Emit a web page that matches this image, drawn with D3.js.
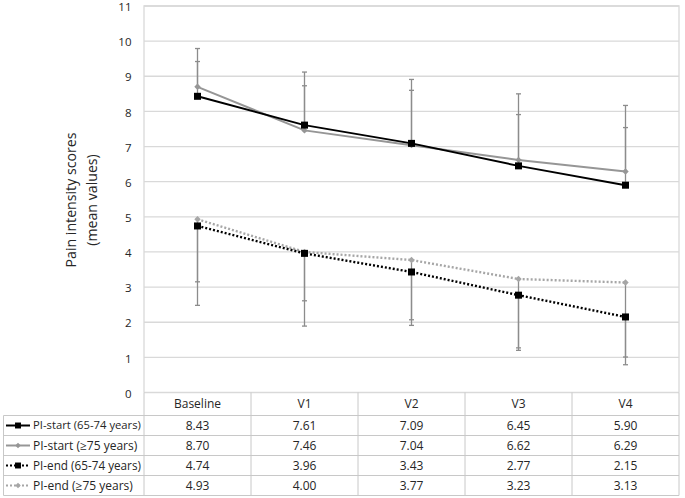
<!DOCTYPE html>
<html><head><meta charset="utf-8">
<script src="https://cdn.jsdelivr.net/npm/d3@7"></script>
<style>
html,body{margin:0;padding:0;background:#fff;}
svg{display:block;font-family:"Open Sans","Noto Sans",sans-serif;}
</style></head>
<body><svg id="c" width="685" height="498"></svg>
<script>
const categories = ["Baseline","V1","V2","V3","V4"];
const seriesNames = ["PI-start (65-74 years)","PI-start (\u226575 years)","PI-end (65-74 years)","PI-end (\u226575 years)"];
const piStart6574 = [8.43,7.61,7.09,6.45,5.90];
const piStart75 = [8.70,7.46,7.04,6.62,6.29];
const piEnd6574 = [4.74,3.96,3.43,2.77,2.15];
const piEnd75 = [4.93,4.00,3.77,3.23,3.13];
// error bar ends (mean + SD for start, mean - SD for end)
const errStart6574 = [9.42,8.73,8.60,7.91,7.54];
const errStart75 = [9.79,9.12,8.91,8.50,8.17];
const errEnd6574 = [3.15,2.61,2.07,1.27,1.01];
const errEnd75 = [2.48,1.89,1.91,1.20,0.79];
const yTicks = [0,1,2,3,4,5,6,7,8,9,10,11];

const series = [
  {name:seriesNames[0], values:piStart6574, err:errStart6574, color:"#000", dash:null, marker:"square"},
  {name:seriesNames[1], values:piStart75, err:errStart75, color:"#969696", dash:null, marker:"diamond"},
  {name:seriesNames[2], values:piEnd6574, err:errEnd6574, color:"#000", dash:"2,2", marker:"square"},
  {name:seriesNames[3], values:piEnd75, err:errEnd75, color:"#a6a6a6", dash:"2,2", marker:"diamond"}
];

const svg = d3.select("#c");
const L=144, R=679, T=6, B=392.5;
const x = d3.scaleBand().domain(categories).range([L,R]).padding(0);
const cx = c => x(c)+x.bandwidth()/2;
const y = d3.scaleLinear().domain([0,11]).range([B,T]);
const grid="#d9d9d9";
const txt="#262626";

// gridlines
svg.append("g").selectAll("line").data(yTicks).join("line")
  .attr("x1",L).attr("x2",R).attr("y1",d=>y(d)).attr("y2",d=>y(d))
  .attr("stroke",grid).attr("stroke-width",1.3);
// plot border
svg.append("path").attr("d",`M${L},${B}V${T}H${R}V${B}`).attr("fill","none").attr("stroke",grid).attr("stroke-width",1.3);

// y tick labels
svg.append("g").selectAll("text").data(yTicks).join("text")
  .attr("x",131.5).attr("y",d=>y(d)+1).attr("dy","0.36em").attr("text-anchor","end")
  .attr("font-size",11.5).attr("fill",txt).text(d=>d);

// y title
const yt = svg.append("text").attr("transform","translate(76,200) rotate(-90)")
  .attr("text-anchor","middle").attr("font-size",14).attr("fill",txt);
const t1 = yt.append("tspan").attr("x",0).attr("dy",0).text("Pain intensity scores");
const t2 = yt.append("tspan").attr("x",0).attr("dy",21).text("(mean values)");
const w1 = t1.node().getComputedTextLength();
yt.attr("font-size", 14*135/w1);

// error bars
const eg = svg.append("g");
series.forEach(s=>{
  categories.forEach((c,i)=>{
    eg.append("line").attr("x1",cx(c)).attr("x2",cx(c)).attr("y1",y(s.values[i])).attr("y2",y(s.err[i]))
      .attr("stroke","#8c8c8c").attr("stroke-width",1.3);
    eg.append("line").attr("x1",cx(c)-2.5).attr("x2",cx(c)+2.5).attr("y1",y(s.err[i])).attr("y2",y(s.err[i]))
      .attr("stroke","#8c8c8c").attr("stroke-width",1.3);
  });
});

// lines
const line = d3.line().x((d,i)=>cx(categories[i])).y(d=>y(d));
function marker(g, type, px, py, color, scale){
  if(type==="square"){
    const s=7*scale;
    g.append("rect").attr("x",px-s/2).attr("y",py-s/2).attr("width",s).attr("height",s).attr("fill",color);
  } else {
    const s=3.2*scale;
    g.append("path").attr("d",`M${px},${py-s}L${px+s},${py}L${px},${py+s}L${px-s},${py}Z`).attr("fill",color);
  }
}
const order=[3,2,1,0];
order.forEach(k=>{
  const s=series[k];
  const g=svg.append("g");
  g.append("path").attr("d",line(s.values)).attr("fill","none").attr("stroke",s.color)
    .attr("stroke-width",s.dash?2.4:2).attr("stroke-dasharray",s.dash);
  s.values.forEach((v,i)=>marker(g,s.marker,cx(categories[i]),y(v),s.color,1));
});

// table
const tb = svg.append("g");
const tl="#c8c8c8";
const hdrB=415.5, rowH=20;
const tableL=3.5;
categories.forEach((c,i)=>{
  if(i>0) tb.append("line").attr("x1",x(c)).attr("x2",x(c)).attr("y1",B).attr("y2",hdrB+rowH*4).attr("stroke",tl);
});
tb.append("line").attr("x1",L).attr("x2",L).attr("y1",B).attr("y2",hdrB+rowH*4).attr("stroke",tl);
tb.append("line").attr("x1",R).attr("x2",R).attr("y1",B).attr("y2",hdrB+rowH*4).attr("stroke",tl);
tb.append("line").attr("x1",tableL).attr("x2",tableL).attr("y1",hdrB).attr("y2",hdrB+rowH*4).attr("stroke",tl);
for(let r=0;r<=4;r++){
  tb.append("line").attr("x1",tableL).attr("x2",R).attr("y1",hdrB+r*rowH).attr("y2",hdrB+r*rowH).attr("stroke",tl);
}
categories.forEach(c=>{
  tb.append("text").attr("x",cx(c)).attr("y",(B+hdrB)/2).attr("dy","0.35em").attr("text-anchor","middle")
    .attr("font-size",12).attr("fill",txt).text(c);
});
series.forEach((s,k)=>{
  const ry = hdrB+k*rowH+rowH/2;
  tb.append("line").attr("x1",6).attr("x2",30).attr("y1",ry).attr("y2",ry)
    .attr("stroke",s.color).attr("stroke-width",s.dash?2.2:2).attr("stroke-dasharray",s.dash);
  marker(tb,s.marker,18,ry,s.color,0.85);
  const lt = tb.append("text").attr("x",33).attr("y",ry).attr("dy","0.35em").attr("font-size",12)
    .attr("fill",txt).text(s.name);
  const lw = lt.node().getComputedTextLength();
  if(lw>108) lt.attr("font-size",12*108/lw);
  s.values.forEach((v,i)=>{
    tb.append("text").attr("x",cx(categories[i])).attr("y",ry).attr("dy","0.35em").attr("text-anchor","middle")
      .attr("font-size",12).attr("fill",txt).text(d3.format(".2f")(v));
  });
});
</script></body></html>
